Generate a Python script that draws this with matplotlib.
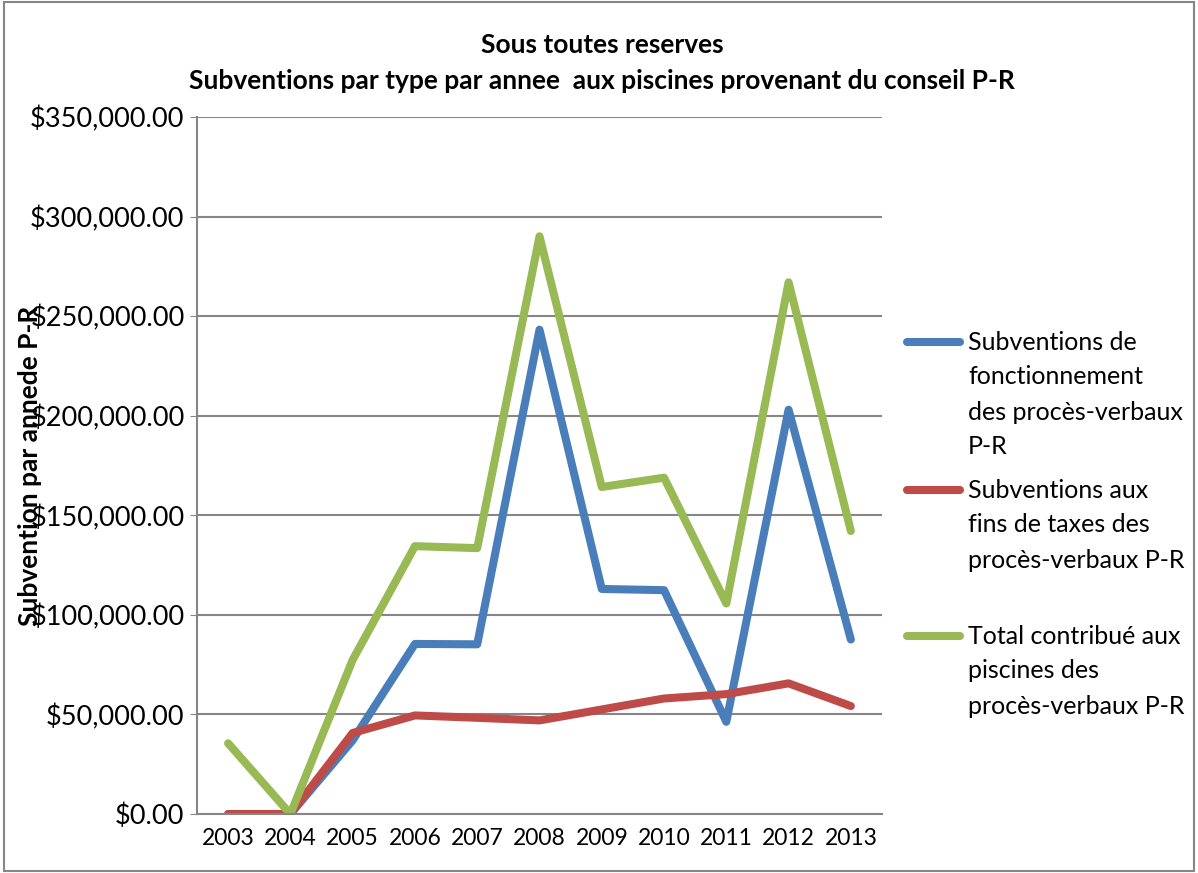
import matplotlib.pyplot as plt
import numpy as np
from matplotlib.lines import Line2D
from matplotlib.patches import Rectangle
from matplotlib.ticker import FuncFormatter

plt.rcParams['font.family'] = ['Lato', 'DejaVu Sans']

years = ["2003", "2004", "2005", "2006", "2007", "2008", "2009", "2010", "2011", "2012", "2013"]
fonctionnement = [0, 0, 37000, 85400, 85200, 243200, 113000, 112400, 46300, 203000, 87600]
taxes = [0, 0, 40700, 49500, 48300, 47000, 52500, 58000, 60200, 65600, 54200]
total = [35500, 0, 77400, 134500, 133500, 290100, 164200, 168900, 105700, 267000, 142100]

labels = [
    ["Subventions de", "fonctionnement", "des procès-verbaux", "P-R"],
    ["Subventions aux", "fins de taxes des", "procès-verbaux P-R"],
    ["Total contribué aux", "piscines des", "procès-verbaux P-R"],
]
colors = ["#4a7ebb", "#be4b48", "#98b954"]

W, H = 1198, 873
fig = plt.figure(figsize=(W / 100, H / 100), dpi=100)
ax = fig.add_axes([197 / W, 1 - 814 / H, 685 / W, 697 / H])

def fx(px):
    return px / W

def fy(py):
    return 1 - py / H

x = np.arange(len(years))
for vals, c in zip([fonctionnement, taxes, total], colors):
    ax.plot(x, vals, color=c, lw=5.8, solid_capstyle="round", solid_joinstyle="round")

ax.set_xlim(-0.5, len(years) - 0.5)
ax.set_ylim(0, 350000)
ax.set_yticks(np.arange(0, 350001, 50000))
ax.yaxis.set_major_formatter(FuncFormatter(lambda v, p: "${:,.2f}".format(v)))
ax.set_xticks(x)
ax.set_xticklabels(years)
ax.grid(axis="y", color="#868686", lw=1.5)
ax.set_axisbelow(True)
for s in ["top", "right"]:
    ax.spines[s].set_visible(False)
for s in ["left", "bottom"]:
    ax.spines[s].set_color("#868686")
    ax.spines[s].set_linewidth(1.5)
ax.tick_params(axis="y", labelsize=19.5, length=5, color="#868686", pad=4)
ax.tick_params(axis="x", labelsize=16.5, length=0, pad=10)

fig.text(fx(602), fy(45), "Sous toutes reserves", ha="center", va="center",
         fontsize=19, fontweight="bold")
fig.text(fx(602), fy(81), "Subventions par type par annee  aux piscines provenant du conseil P-R",
         ha="center", va="center", fontsize=19, fontweight="bold")
fig.text(fx(30), fy(466), "Subvention par annede P-R", rotation=90, ha="center", va="center",
         fontsize=19, fontweight="bold")

# legend, drawn by hand so the key sits on the first line like in the original
entry_tops = [342, 490, 636]
line_step = 35
for lab, c, top in zip(labels, colors, entry_tops):
    fig.add_artist(Line2D([fx(907), fx(960)], [fy(top), fy(top)], color=c, lw=5.8,
                          solid_capstyle="round"))
    for i, txt in enumerate(lab):
        fig.text(fx(968), fy(top + i * line_step), txt, ha="left", va="center", fontsize=18)

# outer chart border
fig.add_artist(Rectangle((fx(4), fy(871)), fx(1190), fy(2) - fy(871),
                         transform=fig.transFigure, fill=False, ec="#868686", lw=1.5))

fig.savefig("out.png", dpi=100)
